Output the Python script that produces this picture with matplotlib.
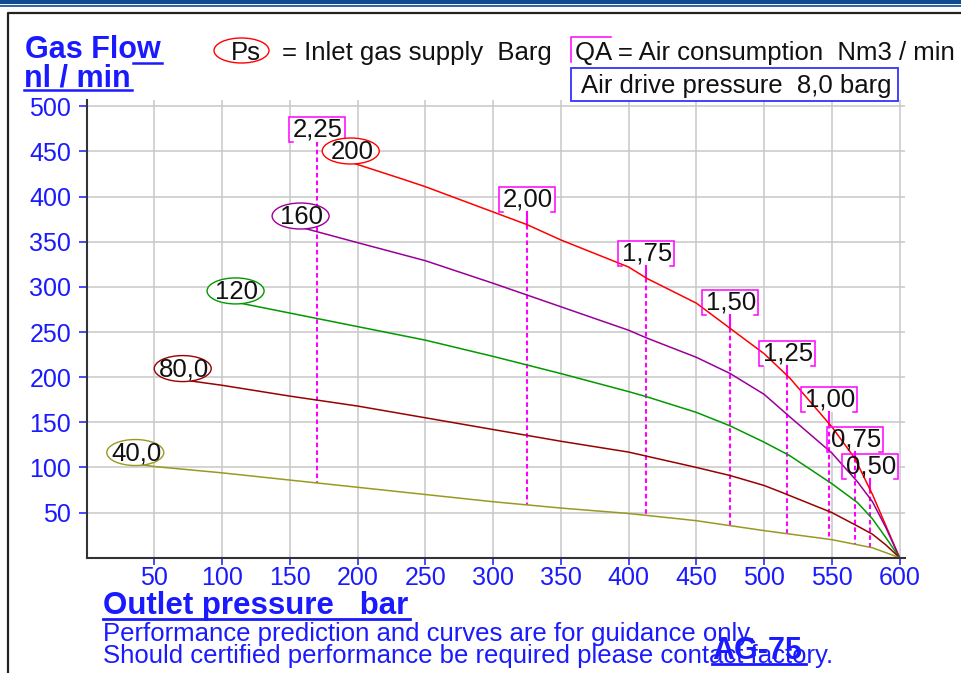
import numpy as np
import matplotlib
matplotlib.use("Agg")
import matplotlib.pyplot as plt
from matplotlib.patches import Ellipse, Rectangle
from matplotlib.lines import Line2D

# --- data ---
red_x = [195, 232, 250, 300, 325, 350, 400, 414, 450, 475, 500, 519, 550, 567, 580, 590, 600]
red_y = [438, 420, 411, 383, 369, 352, 322, 309, 282, 254, 226, 199, 145, 110, 70, 35, 0]

purple_x = [158, 200, 250, 300, 325, 350, 400, 414, 450, 475, 500, 519, 550, 569, 580, 590, 600]
purple_y = [366, 349, 329, 304, 291, 278, 252, 243, 222, 204, 181, 156, 116, 84, 62, 33, 0]

green_x = [110, 150, 170, 200, 250, 300, 350, 400, 414, 450, 475, 500, 519, 550, 569, 580, 590, 600]
green_y = [283, 271, 265, 256, 241, 223, 204, 184, 178, 161, 146, 128, 113, 82, 61, 43, 22, 0]

brown_x = [71, 100, 150, 200, 250, 300, 350, 400, 450, 475, 500, 512, 550, 569, 580, 590, 600]
brown_y = [197, 191, 179, 168, 155, 142, 129, 117, 100, 91, 80, 73, 50, 35, 26, 14, 0]

olive_x = [36, 50, 100, 150, 200, 250, 300, 350, 400, 450, 500, 550, 580, 600]
olive_y = [104, 101, 94, 86, 78, 70, 62, 55, 49, 41, 30, 20, 11, 0]

ps_labels = ["200", "160", "120", "80,0", "40,0"]
curve_colors = ["#ff0000", "#990099", "#009900", "#990000", "#999922"]

qa_x = [170, 325, 413, 475, 517, 548, 567, 578]
qa_labels = ["2,25", "2,00", "1,75", "1,50", "1,25", "1,00", "0,75", "0,50"]
qa_label_y = [474, 397, 337, 283, 226, 175, 131, 101]

x_ticks = list(range(50, 601, 50))
y_ticks = list(range(50, 501, 50))

W, H = 961, 673
BLUE = "#1a1aff"
plt.rcParams['font.family'] = ['Liberation Sans', 'DejaVu Sans']

fig = plt.figure(figsize=(W / 100, H / 100), dpi=100)


def fx(px):
    return px / W


def fy(py):
    return 1 - py / H


# axes placed in pixel terms
ax = fig.add_axes([fx(86.5), fy(557.7), fx(905) - fx(86.5), fy(100) - fy(557.7)])
ax.set_xlim(0, 604)
ax.set_ylim(0, 507)
ax.set_facecolor("none")
for s in ["top", "right"]:
    ax.spines[s].set_visible(False)
for s in ["left", "bottom"]:
    ax.spines[s].set_color("#333333")
    ax.spines[s].set_linewidth(1.5)
    ax.spines[s].set_zorder(6)

ax.set_xticks(x_ticks)
ax.set_yticks(y_ticks)
ax.tick_params(axis="both", direction="out", colors="#2a2aff", labelcolor=BLUE,
               labelsize=18, width=1.2)
ax.tick_params(axis="y", length=6, pad=5)
ax.tick_params(axis="x", length=5, pad=1)
ax.grid(True, color="#c8c8c8", linewidth=1.1, zorder=0)
ax.set_axisbelow(True)

curves = [(red_x, red_y), (purple_x, purple_y), (green_x, green_y),
          (brown_x, brown_y), (olive_x, olive_y)]

# QA label boxes (white fill under the curves, bracket outline above)
bw, bh = 56 / 1.355, 25 / 0.903
tick = 4 / 1.355
for qx, lab, ly in zip(qa_x, qa_labels, qa_label_y):
    ax.add_patch(Rectangle((qx - bw / 2, ly - bh / 2), bw, bh, facecolor="white",
                           edgecolor="none", zorder=1))
    x0, x1, y0, y1 = qx - bw / 2, qx + bw / 2, ly - bh / 2, ly + bh / 2
    ax.plot([x0 + tick, x0, x0, x1, x1, x1 - tick], [y0, y0, y1, y1, y0, y0],
            color="#ff00ff", lw=1.1, zorder=3, solid_joinstyle="miter")
    ax.text(qx + 1, ly, lab, ha="center", va="center", fontsize=18.5, color="#111111", zorder=4)
    y_red = np.interp(qx, red_x, red_y, left=np.nan)
    y_olive = np.interp(qx, olive_x, olive_y)
    if np.isnan(y_red):
        ax.plot([qx, qx], [y0, y_olive], color="#ff00ff", lw=1.5,
                linestyle=(0, (2.2, 1.5)), zorder=2)
    else:
        ax.plot([qx, qx], [y0, y_red], color="#ff00ff", lw=1.5, zorder=2)
        ax.plot([qx, qx], [y_red, y_olive], color="#ff00ff", lw=1.5,
                linestyle=(0, (2.2, 1.5)), zorder=2)

# gas flow curves
for (cx, cy), col, lab in zip(curves, curve_colors, ps_labels):
    ax.plot(cx, cy, color=col, lw=1.1, zorder=2.5)
    ex, ey = cx[0], cy[0] + 12.5
    ax.add_patch(Ellipse((ex, ey), 57 / 1.355, 26 / 0.903, facecolor="white",
                         edgecolor=col, lw=1.0, zorder=4))
    ax.text(ex + 1, ey - 1, lab, ha="center", va="center", fontsize=18.5,
            color="#111111", zorder=5)

# --- figure decorations ---
fig.add_artist(Line2D([0, 1], [fy(2), fy(2)], color="#0f4c8f", lw=3.0))
fig.add_artist(Line2D([0, 1], [fy(6), fy(6)], color="#0f4c8f", lw=1.2))
fig.add_artist(Line2D([fx(8), fx(8), 1], [0, fy(12.5), fy(12.5)], color="#222222", lw=1.6))

fig.text(fx(25), fy(58.5), "Gas Flow", fontsize=22, fontweight="bold", color=BLUE, va="baseline")
fig.add_artist(Line2D([fx(133), fx(162)], [fy(62.5), fy(62.5)], color=BLUE, lw=1.8))
fig.text(fx(23.5), fy(86.7), "nl / min", fontsize=22, fontweight="bold", color=BLUE,
         va="baseline")
fig.add_artist(Line2D([fx(23.5), fx(131.5)], [fy(90), fy(90)], color=BLUE, lw=1.8))

fig.add_artist(Ellipse((fx(241.5), fy(50.5)), 55 / W, 25 / H, facecolor="none",
                       edgecolor="#ff0000", lw=1.0))
fig.text(fx(231), fy(60.5), "Ps", fontsize=18.5, color="#111111", va="baseline")
fig.text(fx(282), fy(60), "= Inlet gas supply  Barg", fontsize=18.5, color="#111111",
         va="baseline")
fig.add_artist(Line2D([fx(610.7), fx(571), fx(571)], [fy(36.7), fy(36.7), fy(61.7)],
                      color="#ff00ff", lw=1.1))
fig.text(fx(575), fy(60), "QA = Air consumption  Nm3 / min", fontsize=18.5,
         color="#111111", va="baseline")
fig.add_artist(Rectangle((fx(570.7), fy(101)), (898.3 - 570.7) / W, (101 - 67.7) / H,
                         facecolor="none", edgecolor="#3333ff", lw=1.3))
fig.text(fx(581), fy(92.7), "Air drive pressure  8,0 barg", fontsize=18.5,
         color="#111111", va="baseline")

fig.text(fx(103), fy(614), "Outlet pressure   bar", fontsize=22.5, fontweight="bold",
         color=BLUE, va="baseline")
fig.add_artist(Line2D([fx(103), fx(410)], [fy(619), fy(619)], color=BLUE, lw=2.0))
fig.text(fx(103), fy(641), "Performance prediction and curves are for guidance only.",
         fontsize=18.5, color=BLUE, va="baseline")
fig.text(fx(103), fy(663), "Should certified performance be required please contact factory.",
         fontsize=18.5, color=BLUE, va="baseline")
fig.text(fx(712), fy(659), "AG-75", fontsize=22, fontweight="bold", color=BLUE,
         va="baseline")
fig.add_artist(Line2D([fx(712), fx(806)], [fy(663.5), fy(663.5)], color=BLUE, lw=2.0))

fig.savefig("out.png", dpi=100)
